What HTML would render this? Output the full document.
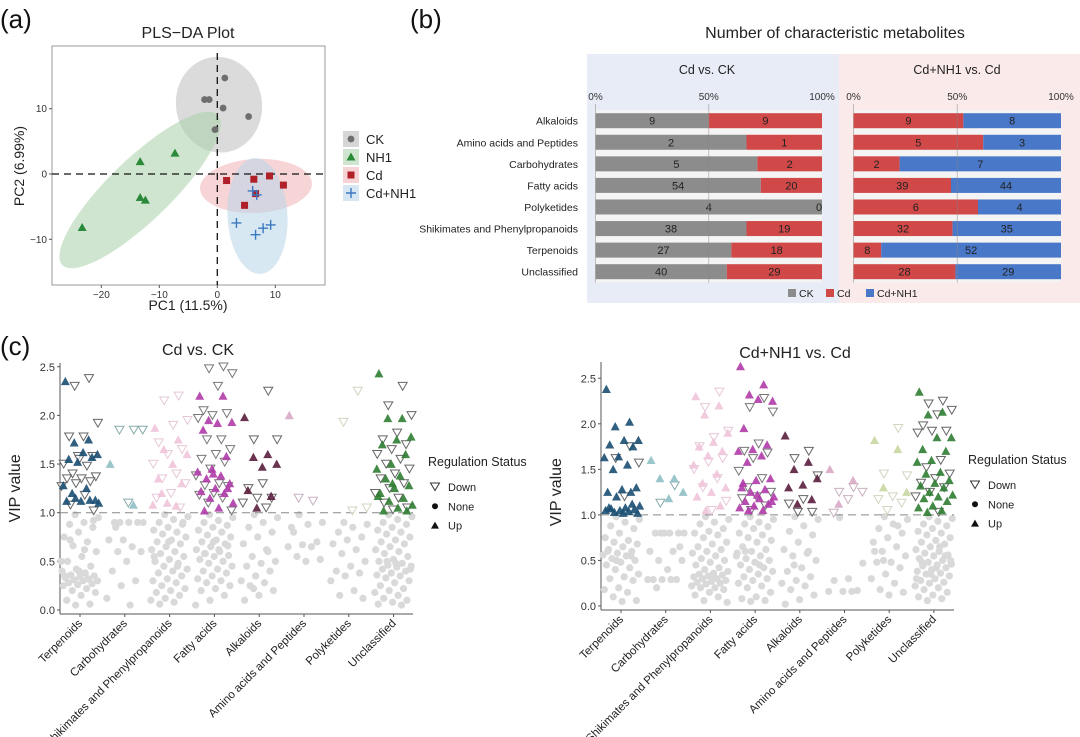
<!DOCTYPE html>
<html><head><meta charset="utf-8"><style>
html,body{margin:0;padding:0;background:#fff;}
svg{display:block;font-family:"Liberation Sans",Arial,sans-serif;}
</style></head><body>
<svg id="fig" width="1080" height="737" viewBox="0 0 1080 737" xmlns="http://www.w3.org/2000/svg">
<text x="0" y="28" font-size="26" fill="#111">(a)</text>
<text x="410" y="28" font-size="26" fill="#111">(b)</text>
<text x="0" y="355" font-size="26" fill="#111">(c)</text>
<g id="pa"></g>
<g id="pb"></g>
<g id="pc1"></g>
<g id="pc2"></g>
</svg>
<script>
// ===== Panel (a) data =====
const groupNames = ["CK","NH1","Cd","Cd+NH1"];
const ckX = [1.3,-2.2,-1.4,1.0,5.4,-0.4];
const ckY = [14.7,11.4,11.4,10.1,8.8,6.8];
const nh1X = [-7.3,-13.3,-13.3,-12.4,-23.3];
const nh1Y = [3.2,1.9,-3.6,-4.0,-8.2];
const cdX = [1.6,6.3,9.0,11.4,4.7,6.6];
const cdY = [-1.0,-0.8,-0.3,-1.7,-4.8,-3.0];
const cdnX = [6.1,6.8,3.3,6.6,7.9,9.2];
const cdnY = [-2.6,-3.2,-7.5,-9.3,-8.3,-7.8];
const paXTicks = [-20,-10,0,10];
const paYTicks = [-10,0,10];

// ===== Panel (b) data =====
const bCats = ["Alkaloids","Amino acids and Peptides","Carbohydrates","Fatty acids","Polyketides","Shikimates and Phenylpropanoids","Terpenoids","Unclassified"];
const bLeftCK = [9,2,5,54,4,38,27,40];
const bLeftCd = [9,1,2,20,0,19,18,29];
const bRightCd = [9,5,2,39,6,32,8,28];
const bRightCdNH1 = [8,3,7,44,4,35,52,29];
const bTicks = ["0%","50%","100%"];

// ===== Panel (c) data =====
const cCats = ["Terpenoids","Carbohydrates","Shikimates and Phenylpropanoids","Fatty acids","Alkaloids","Amino acids and Peptides","Polyketides","Unclassified"];
const cTicks = [0.0,0.5,1.0,1.5,2.0,2.5];
// left: Cd vs CK
const L_up = [
 [2.35,1.75,1.72,1.6,1.62,1.55,1.57,1.52,1.28,1.25,1.2,1.13,1.12,1.12,1.13,1.15,1.1],
 [1.5,1.08],
 [1.87,1.75,1.65,1.6,1.5,1.35,1.3,1.1,1.08,1.07,1.2],
 [2.2,2.2,1.95,1.93,1.92,1.85,1.58,1.45,1.42,1.38,1.35,1.3,1.25,1.22,1.2,1.15,1.1,1.05,1.02,1.25,1.4],
 [1.98,1.6,1.57,1.5,1.47,1.23,1.17,1.05],
 [2.0],
 [],
 [2.43,1.97,1.97,1.78,1.75,1.7,1.6,1.5,1.45,1.38,1.35,1.28,1.25,1.2,1.15,1.12,1.08,1.05,1.02,1.02,1.3,1.17]];
const L_down = [
 [2.38,2.3,1.92,1.78,1.78,1.58,1.58,1.5,1.48,1.4,1.37,1.35,1.35,1.32,1.3,1.27,1.18,1.08,1.02,1.55],
 [1.85,1.85,1.85,1.1],
 [2.2,2.15,1.95,1.9,1.72,1.65,1.6,1.5,1.4,1.35,1.3,1.2,1.15,1.05],
 [2.5,2.48,2.43,2.3,2.05,2.02,2.0,1.97,1.75,1.75,1.65,1.6,1.55,1.52,1.45,1.38,1.3,1.28,1.27,1.2,1.18,1.15,1.1,1.02],
 [2.25,1.75,1.75,1.3,1.25,1.15,1.15,1.1,1.05],
 [1.12,1.15],
 [2.25,1.93,1.05,1.02],
 [2.3,2.1,2.0,1.82,1.75,1.7,1.65,1.6,1.55,1.5,1.45,1.4,1.35,1.3,1.25,1.2,1.15,1.1,1.05,1.03]];
const L_none = [
 [0.98,0.95,0.9,0.88,0.85,0.8,0.75,0.7,0.66,0.6,0.55,0.5,0.45,0.42,0.4,0.38,0.36,0.35,0.34,0.33,0.32,0.31,0.3,0.3,0.28,0.27,0.26,0.25,0.22,0.2,0.18,0.15,0.1,0.06,0.05,0.5,0.62,0.72,0.92,0.4,0.35,0.32],
 [0.9,0.9,0.9,0.9,0.9,0.72,0.72,0.65,0.6,0.6,0.5,0.4,0.3,0.25,0.12,0.05,0.85],
 [0.98,0.96,0.93,0.9,0.88,0.85,0.82,0.8,0.78,0.75,0.72,0.7,0.68,0.65,0.62,0.6,0.58,0.55,0.52,0.5,0.48,0.45,0.42,0.4,0.38,0.35,0.32,0.3,0.28,0.25,0.22,0.2,0.18,0.15,0.12,0.1,0.08,0.06,0.9,0.7,0.55,0.45],
 [0.98,0.95,0.92,0.9,0.87,0.85,0.82,0.8,0.77,0.75,0.72,0.7,0.68,0.65,0.62,0.6,0.58,0.56,0.55,0.52,0.5,0.48,0.45,0.42,0.4,0.38,0.35,0.32,0.3,0.28,0.25,0.22,0.2,0.15,0.1,0.05,0.62,0.58,0.66,0.7],
 [0.98,0.95,0.9,0.85,0.8,0.75,0.68,0.62,0.55,0.5,0.48,0.45,0.4,0.35,0.3,0.28,0.25,0.2,0.15,0.1,0.6,0.22],
 [0.98,0.9,0.88,0.8,0.7,0.67,0.65,0.65,0.55,0.52,0.5,0.85],
 [0.9,0.88,0.85,0.8,0.75,0.72,0.68,0.62,0.58,0.5,0.45,0.4,0.38,0.35,0.3,0.2,0.15,0.12],
 [0.98,0.96,0.93,0.9,0.88,0.85,0.82,0.8,0.78,0.75,0.72,0.7,0.68,0.65,0.62,0.6,0.58,0.55,0.52,0.5,0.48,0.46,0.45,0.44,0.42,0.4,0.38,0.36,0.35,0.33,0.3,0.28,0.25,0.22,0.2,0.18,0.15,0.12,0.1,0.08,0.06,0.05,0.5,0.42,0.48]];
// right: Cd+NH1 vs Cd
const R_up = [
 [2.38,2.02,1.97,1.82,1.82,1.77,1.75,1.64,1.63,1.55,1.5,1.3,1.28,1.25,1.25,1.2,1.1,1.08,1.07,1.06,1.05,1.05,1.04,1.03,1.02,1.02,1.08,1.12],
 [1.6,1.4,1.4,1.25,1.18],
 [2.3,2.2,2.1,1.9,1.8,1.75,1.7,1.65,1.55,1.45,1.35,1.3,1.25,1.2,1.1,1.05],
 [2.63,2.43,2.32,2.25,2.27,1.95,1.77,1.72,1.7,1.65,1.58,1.4,1.38,1.3,1.28,1.25,1.2,1.18,1.15,1.12,1.1,1.08,1.05,1.05,1.15,1.22,1.35],
 [1.87,1.58,1.5,1.4,1.33,1.3,1.17,1.12],
 [1.5,1.38,1.12],
 [1.82,1.72,1.3,1.25],
 [2.35,2.13,2.1,1.85,1.85,1.72,1.7,1.6,1.58,1.47,1.45,1.38,1.35,1.32,1.3,1.25,1.22,1.2,1.18,1.15,1.1,1.08,1.05,1.03]];
const R_down = [
 [1.75,1.62,1.57,1.2],
 [1.32,1.13],
 [2.35,2.18,1.92,1.85,1.75,1.62,1.58,1.5,1.4,1.3,1.15,1.05],
 [2.28,2.18,2.13,1.78,1.7,1.68,1.62,1.48,1.4,1.3,1.25,1.2,1.18,1.1,1.05],
 [1.7,1.62,1.43,1.17,1.12,1.03,1.03],
 [1.3,1.25,1.25,1.17,1.02],
 [1.95,1.45,1.43,1.2,1.17,1.13,1.05],
 [2.25,2.22,2.15,2.1,1.98,1.92,1.92,1.9,1.6,1.52,1.45,1.4,1.35,1.3,1.25,1.2,1.03]];
const R_none = [
 [0.98,0.95,0.92,0.88,0.85,0.8,0.75,0.72,0.7,0.68,0.65,0.62,0.6,0.58,0.56,0.55,0.52,0.5,0.48,0.45,0.42,0.4,0.35,0.32,0.3,0.28,0.2,0.18,0.15,0.1,0.06,0.05,0.6,0.55,0.5],
 [0.8,0.8,0.8,0.8,0.8,0.8,0.6,0.6,0.5,0.5,0.4,0.29,0.29,0.29,0.29,0.29,0.2,0.65],
 [0.98,0.95,0.92,0.9,0.85,0.82,0.8,0.78,0.75,0.7,0.68,0.65,0.62,0.6,0.58,0.55,0.52,0.5,0.48,0.45,0.42,0.4,0.38,0.36,0.35,0.34,0.33,0.32,0.3,0.3,0.28,0.27,0.26,0.25,0.24,0.22,0.2,0.2,0.18,0.15,0.12,0.1,0.06,0.04,0.3],
 [0.98,0.95,0.92,0.9,0.87,0.85,0.8,0.78,0.75,0.72,0.7,0.65,0.62,0.6,0.58,0.55,0.52,0.5,0.48,0.45,0.42,0.4,0.38,0.35,0.32,0.3,0.28,0.25,0.22,0.2,0.15,0.1,0.08,0.06,0.05,0.55,0.45,0.6],
 [0.98,0.95,0.88,0.82,0.78,0.7,0.62,0.58,0.55,0.5,0.42,0.38,0.32,0.28,0.25,0.22,0.18,0.12,0.07,0.02,0.6,0.45],
 [0.97,0.47,0.3,0.28,0.17,0.16,0.16,0.16],
 [0.98,0.95,0.9,0.85,0.8,0.75,0.7,0.65,0.6,0.55,0.48,0.48,0.42,0.35,0.3,0.25,0.18,0.15,0.12,0.6,0.88,0.5],
 [0.98,0.96,0.93,0.9,0.88,0.85,0.82,0.8,0.78,0.75,0.72,0.7,0.68,0.65,0.62,0.6,0.58,0.56,0.55,0.52,0.5,0.48,0.46,0.45,0.44,0.42,0.4,0.38,0.36,0.35,0.33,0.3,0.28,0.26,0.25,0.22,0.2,0.18,0.15,0.12,0.1,0.08,0.06,0.5,0.42,0.48,0.55,0.35,0.3,0.65]];

const NS = "http://www.w3.org/2000/svg";
function mk(parent, tag, attrs, text){
  const e = document.createElementNS(NS, tag);
  for (const k in attrs) e.setAttribute(k, attrs[k]);
  if (text !== undefined) e.textContent = text;
  parent.appendChild(e);
  return e;
}

// ===== Panel (a) =====
(function(){
  const g = document.getElementById('pa');
  const L=52,R=325,T=46,B=285;
  const sx = v => 217.3 + v*5.8;
  const sy = v => 174 - v*6.53;
  let t = mk(g,'text',{x:188,y:38,'font-size':16,'text-anchor':'middle',fill:'#222'},'PLS−DA Plot');
   
  const ells = [
    {cx:219,cy:104.7,rx:43,ry:48,a:-10,f:'#bdbdbd',n:'ck-ellipse'},
    {cx:140,cy:190,rx:108,ry:31,a:-44,f:'#a8d0a8',n:'nh1-ellipse'},
    {cx:256,cy:186,rx:56,ry:27,a:-3,f:'#f0b0b4',n:'cd-ellipse'},
    {cx:257.5,cy:216,rx:30,ry:58,a:-3,f:'#b8d6ea',n:'cdnh1-ellipse'}];
  ells.forEach(o=>{
    const e = mk(g,'ellipse',{cx:o.cx,cy:o.cy,rx:o.rx,ry:o.ry,fill:o.f,'fill-opacity':0.55,transform:`rotate(${o.a} ${o.cx} ${o.cy})`});
    
    
  });
  let fr = mk(g,'rect',{x:L,y:T,width:R-L,height:B-T,fill:'none',stroke:'#999','stroke-width':1});
   
  mk(g,'line',{x1:L,x2:R,y1:sy(0),y2:sy(0),stroke:'#111','stroke-dasharray':'7 5','stroke-width':1.3});
  mk(g,'line',{x1:sx(0),x2:sx(0),y1:T+7,y2:B,stroke:'#111','stroke-dasharray':'7 5','stroke-width':1.3});
  paXTicks.forEach(v=>{
    mk(g,'line',{x1:sx(v),x2:sx(v),y1:B,y2:B+3,stroke:'#555'});
    const tt = mk(g,'text',{x:sx(v),y:B+13,'font-size':10,'text-anchor':'middle',fill:'#333'},v===0?'0':String(v).replace('-','−'));
     
  });
  paYTicks.forEach(v=>{
    mk(g,'line',{x1:L-3,x2:L,y1:sy(v),y2:sy(v),stroke:'#555'});
    const tt = mk(g,'text',{x:L-5,y:sy(v)+3.5,'font-size':10,'text-anchor':'end',fill:'#333'},String(v).replace('-','−'));
     
  });
  t = mk(g,'text',{x:188,y:310,'font-size':14,'text-anchor':'middle',fill:'#222'},'PC1 (11.5%)');
   
  t = mk(g,'text',{x:24,y:166,'font-size':14,'text-anchor':'middle',fill:'#222',transform:'rotate(-90 24 166)'},'PC2 (6.99%)');
   
  function marker(type,x,y,par){
    let e;
    if(type==='c') e = mk(par,'circle',{cx:x,cy:y,r:3.4,fill:'#6e6e6e'});
    else if(type==='t') e = mk(par,'polygon',{points:`${x},${y-4.5} ${x-4.5},${y+3.5} ${x+4.5},${y+3.5}`,fill:'#2a8a3a'});
    else if(type==='s') e = mk(par,'rect',{x:x-3.5,y:y-3.5,width:7,height:7,fill:'#b02028'});
    else e = mk(par,'path',{d:`M${x-5},${y}H${x+5}M${x},${y-5}V${y+5}`,stroke:'#3a78c0','stroke-width':1.4,fill:'none'});
    return e;
  }
  const sets=[[ckX,ckY,'c'],[nh1X,nh1Y,'t'],[cdX,cdY,'s'],[cdnX,cdnY,'p']];
  const pn=['ck-point','nh1-point','cd-point','cdnh1-point'];
  sets.forEach((s,k)=>{
    s[0].forEach((v,i)=>{
      const e = marker(s[2],sx(v),sy(s[1][i]),g);
      
      
    });
  });
  const legBg=['#d6d6d6','#cfe5cf','#f6d3d5','#d6e6f2'];
  groupNames.forEach((nm,i)=>{
    const y = 139 + i*18;
    const lg = mk(g,'g',{});
    
    
    mk(lg,'rect',{x:343,y:y-8,width:16,height:16,fill:legBg[i]});
    marker(sets[i][2],351,y,lg);
    mk(lg,'text',{x:366,y:y+5,'font-size':13,fill:'#222'},nm);
  });
})();

// ===== Panel (b) =====
(function(){
  const g = document.getElementById('pb');
  mk(g,'rect',{x:587,y:54,width:252,height:249,fill:'#e8ecf6'});
  mk(g,'rect',{x:839,y:54,width:241,height:249,fill:'#fbeaea'});
  let t = mk(g,'text',{x:835,y:38,'font-size':16,'text-anchor':'middle',fill:'#222'},'Number of characteristic metabolites');
   
  t = mk(g,'text',{x:707,y:74,'font-size':12.5,'text-anchor':'middle',fill:'#222'},'Cd vs. CK');
   
  t = mk(g,'text',{x:957,y:74,'font-size':12.5,'text-anchor':'middle',fill:'#222'},'Cd+NH1 vs. Cd');
   
  const facets=[{x0:595.5,x1:822,a:bLeftCK,b:bLeftCd,ca:'#8c8c8c',cb:'#d04848',n:'left'},
                {x0:853.5,x1:1061,a:bRightCd,b:bRightCdNH1,ca:'#d04848',cb:'#4a78c8',n:'right'}];
  const rowY = i => 120.7 + i*21.57;
  facets.forEach(f=>{
    const w=f.x1-f.x0;
    mk(g,'rect',{x:f.x0,y:rowY(0)-10.5,width:w,height:rowY(7)-rowY(0)+21,fill:'#f4f4f4'});
    bTicks.forEach((tk,j)=>{
      const x=f.x0+w*j/2;
      const tt=mk(g,'text',{x:x,y:100,'font-size':10,'text-anchor':'middle',fill:'#333'},tk);
       
    });
    mk(g,'line',{x1:f.x0,x2:f.x0,y1:104,y2:rowY(7)+11,stroke:'#bbb'});
    bCats.forEach((c,i)=>{
      const tot=f.a[i]+f.b[i];
      const xm=f.x0+w*f.a[i]/tot;
      const y=rowY(i);
      const r1=mk(g,'rect',{x:f.x0,y:y-7.5,width:xm-f.x0,height:15,fill:f.ca});
       
      const r2=mk(g,'rect',{x:xm,y:y-7.5,width:f.x1-xm,height:15,fill:f.cb});
       
      mk(g,'text',{x:(f.x0+xm)/2,y:y+4,'font-size':11,'text-anchor':'middle',fill:'#222'},String(f.a[i]));
      mk(g,'text',{x:f.b[i]===0?f.x1-3:(xm+f.x1)/2,y:y+4,'font-size':11,'text-anchor':'middle',fill:'#222'},String(f.b[i]));
    });
    mk(g,'line',{x1:f.x0+w/2,x2:f.x0+w/2,y1:104,y2:rowY(7)+11,stroke:'#888','stroke-width':0.8,'stroke-opacity':0.6});
  });
  bCats.forEach((c,i)=>{
    const tt=mk(g,'text',{x:578,y:rowY(i)+4,'font-size':10.5,'text-anchor':'end',fill:'#222'},c);
     
  });
  const leg=[['CK','#8c8c8c',788],['Cd','#d04848',826],['Cd+NH1','#4a78c8',866]];
  leg.forEach(l=>{
    const lg=mk(g,'g',{});
    
    
    mk(lg,'rect',{x:l[2],y:289,width:8,height:8,fill:l[1]});
    mk(lg,'text',{x:l[2]+11,y:297,'font-size':10.5,fill:'#222'},l[0]);
  });
})();

// ===== Panel (c) =====
const catColors=['#1a4e72','#8fbfc4','#f0c4da','#b03ba8','#5a1e3e','#d8a8c4','#c8d6a0','#2e7d32'];
const catDownStroke=['#666','#8aa','#e6c8d8','#777','#666','#c8b0c0','#d0d6c0','#666'];
function vipPanel(gid,opt,UP,DOWN,NONE){
  const g=document.getElementById(gid);
  const sy=v=>opt.y0 - v*opt.k;
  const cx=i=>opt.c0 + i*opt.dc;
  const jit=(i,s)=>(((i*0.6180339+s*0.37)%1)-0.5)*2*opt.dc*0.42;
  let t=mk(g,'text',{x:opt.tx,y:opt.ty,'font-size':16,'text-anchor':'middle',fill:'#222'},opt.title);
   
  mk(g,'line',{x1:opt.ax,x2:opt.ax,y1:opt.top,y2:sy(0)+4,stroke:'#555'});
  mk(g,'line',{x1:opt.ax,x2:opt.xe,y1:sy(0)+4,y2:sy(0)+4,stroke:'#555'});
  cTicks.forEach(v=>{
    mk(g,'line',{x1:opt.ax-3,x2:opt.ax,y1:sy(v),y2:sy(v),stroke:'#555'});
    const tt=mk(g,'text',{x:opt.ax-5,y:sy(v)+4,'font-size':11,'text-anchor':'end',fill:'#333'},v.toFixed(1));
     
  });
  t=mk(g,'text',{x:opt.ax-40,y:(sy(0)+sy(2.5))/2,'font-size':16,'text-anchor':'middle',fill:'#222',transform:`rotate(-90 ${opt.ax-40} ${(sy(0)+sy(2.5))/2})`},'VIP value');
   
  cCats.forEach((c,i)=>{
    const x=cx(i);
    NONE[i].forEach((v,j)=>{
      const e=mk(g,'circle',{cx:x+jit(j,1),cy:sy(v),r:3.6,fill:'#d9d9d9'});
       
    });
  });
  mk(g,'line',{x1:opt.ax,x2:opt.xe,y1:sy(1),y2:sy(1),stroke:'#888','stroke-dasharray':'8 5','stroke-width':1});
  cCats.forEach((c,i)=>{
    const x=cx(i);
    DOWN[i].forEach((v,j)=>{
      const px=x+jit(j,2), py=sy(v);
      const e=mk(g,'polygon',{points:`${px-4.5},${py-3.8} ${px+4.5},${py-3.8} ${px},${py+4}`,fill:'#fff','fill-opacity':0.6,stroke:catDownStroke[i],'stroke-width':1});
       
    });
    UP[i].forEach((v,j)=>{
      const px=x+jit(j,3), py=sy(v);
      const e=mk(g,'polygon',{points:`${px},${py-4.5} ${px-4.5},${py+3.8} ${px+4.5},${py+3.8}`,fill:catColors[i],'fill-opacity':0.9});
       
    });
    mk(g,'line',{x1:x,x2:x,y1:sy(0)+4,y2:sy(0)+7,stroke:'#555'});
    const tt=mk(g,'text',{x:x+3,y:sy(0)+14,'font-size':11.5,'text-anchor':'end',fill:'#222',transform:`rotate(-45 ${x+3} ${sy(0)+14})`},c);
     
  });
  const lx=opt.lx;
  t=mk(g,'text',{x:lx,y:opt.ly,'font-size':12.5,fill:'#222'},'Regulation Status');
   
  const items=['Down','None','Up'];
  items.forEach((nm,k)=>{
    const y=opt.ly+21+k*19.3, x=lx+7;
    const lg=mk(g,'g',{});
    
    
    if(k===0) mk(lg,'polygon',{points:`${x-4.5},${y-4} ${x+4.5},${y-4} ${x},${y+3.5}`,fill:'none',stroke:'#333'});
    else if(k===1) mk(lg,'circle',{cx:x,cy:y,r:3,fill:'#111'});
    else mk(lg,'polygon',{points:`${x},${y-4} ${x-4},${y+3} ${x+4},${y+3}`,fill:'#111'});
    mk(lg,'text',{x:lx+20,y:y+4,'font-size':11,fill:'#222'},nm);
  });
}
vipPanel('pc1',{title:'Cd vs. CK',tx:198,ty:355,ax:60,xe:413,top:363,y0:610,k:97.3,c0:80,dc:44.8,lx:428,ly:466},L_up,L_down,L_none);
vipPanel('pc2',{title:'Cd+NH1 vs. Cd',tx:795,ty:358,ax:601,xe:954,top:362,y0:606,k:91.1,c0:621,dc:44.7,lx:968,ly:464},R_up,R_down,R_none);
</script>
</body></html>
